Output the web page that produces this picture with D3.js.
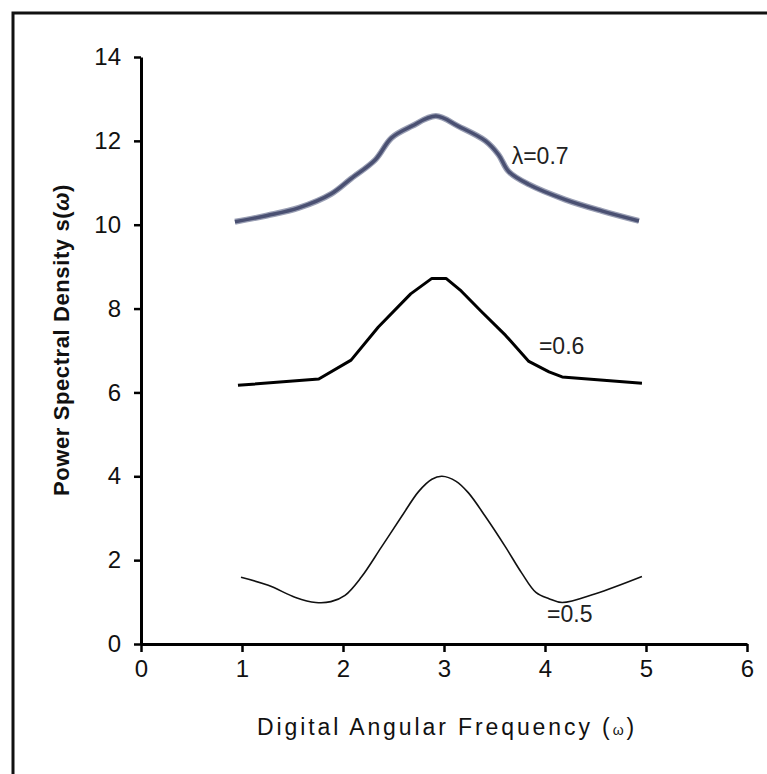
<!DOCTYPE html>
<html>
<head>
<meta charset="utf-8">
<script src="https://cdn.jsdelivr.net/npm/d3@7"></script>
<style>
  body { margin: 0; background: #fff; }
  svg { display: block; font-family: "Liberation Sans", Arial, sans-serif; }
</style>
</head>
<body>
<div id="container"></div>
<script>
'use strict'
// data
const xTicks = [0, 1, 2, 3, 4, 5, 6];
const yTicks = [0, 2, 4, 6, 8, 10, 12, 14];

const omega07 = [0.93, 1.25, 1.56, 1.88, 2.08, 2.32, 2.48, 2.68, 2.92, 3.14, 3.41, 3.54, 3.64, 3.84, 4.2, 4.56, 4.93];
const psd07   = [10.07, 10.22, 10.4, 10.73, 11.1, 11.55, 12.07, 12.35, 12.59, 12.35, 12.0, 11.67, 11.27, 10.96, 10.6, 10.33, 10.09];

const omega06 = [0.96, 1.76, 2.08, 2.35, 2.67, 2.88, 3.02, 3.17, 3.37, 3.61, 3.84, 4.04, 4.17, 4.96];
const psd06   = [6.17, 6.32, 6.77, 7.56, 8.35, 8.72, 8.72, 8.42, 7.93, 7.36, 6.74, 6.49, 6.37, 6.22];

const omega05 = [0.99, 1.26, 1.53, 1.73, 1.88, 2.02, 2.18, 2.38, 2.58, 2.75, 2.88, 2.98, 3.12, 3.24, 3.41, 3.61, 3.77, 3.91, 4.04, 4.17, 4.5, 4.96];
const psd05   = [1.59, 1.40, 1.11, 0.99, 1.01, 1.16, 1.59, 2.31, 3.04, 3.64, 3.93, 4.0, 3.88, 3.61, 3.04, 2.31, 1.69, 1.23, 1.08, 0.99, 1.20, 1.61];

const labels = [
  { text: "\u03bb=0.7", x: 3.67, y: 11.45 },
  { text: "=0.6", x: 3.94, y: 6.92 },
  { text: "=0.5", x: 4.02, y: 0.52 }
];

const w = 767, h = 774;
const svg = d3.select("#container").append("svg").attr("width", w).attr("height", h);

// scanned page frame (top and left edges only)
svg.append("path").attr("d", "M13,790 V13 H790")
   .attr("fill", "none").attr("stroke", "#111").attr("stroke-width", 3);

//Scales
const xScale = d3.scaleLinear().domain([0, 6]).range([141, 747]);
const yScale = d3.scaleLinear().domain([0, 14]).range([644, 57]);

//Axes
const yAxis = d3.axisLeft(yScale).tickValues(yTicks).tickFormat(d3.format("d"))
                .tickSize(7).tickSizeOuter(0).tickPadding(13);
const gy = svg.append("g").attr("transform", "translate(" + xScale(0) + ",0)").call(yAxis);
const xAxis = d3.axisBottom(xScale).tickValues(xTicks).tickFormat(d3.format("d"))
                .tickSize(8).tickSizeOuter(0).tickPadding(8);
const gx = svg.append("g").attr("transform", "translate(0," + yScale(0) + ")").call(xAxis);

[gy, gx].forEach(function(g) {
  g.attr("font-size", null).attr("font-family", null);
  g.select(".domain").attr("stroke", "#000").attr("stroke-width", 3);
  g.selectAll(".tick line").attr("stroke", "#000").attr("stroke-width", 2.5);
  g.selectAll(".tick text").attr("fill", "#111").style("font-size", "24px");
});

//Lines
const line = d3.line().x(d => xScale(d[0])).y(d => yScale(d[1]));
const smooth = d3.line().x(d => xScale(d[0])).y(d => yScale(d[1])).curve(d3.curveCatmullRom);

svg.append("path").datum(d3.zip(omega07, psd07)).attr("d", smooth)
   .attr("fill", "none").attr("stroke", "#9a9fb4").attr("stroke-width", 6).attr("stroke-linejoin", "round");
svg.append("path").datum(d3.zip(omega07, psd07)).attr("d", smooth)
   .attr("fill", "none").attr("stroke", "#4a5072").attr("stroke-width", 3.5).attr("stroke-linejoin", "round");

svg.append("path").datum(d3.zip(omega06, psd06)).attr("d", line)
   .attr("fill", "none").attr("stroke", "#000").attr("stroke-width", 3).attr("stroke-linejoin", "round");

svg.append("path").datum(d3.zip(omega05, psd05)).attr("d", smooth)
   .attr("fill", "none").attr("stroke", "#111").attr("stroke-width", 1.6);

//Curve labels
svg.selectAll("text.lbl").data(labels).enter().append("text").attr("class", "lbl")
   .attr("x", d => xScale(d.x)).attr("y", d => yScale(d.y))
   .style("font-size", "23px").attr("fill", "#222").text(d => d.text);

//Axis titles
svg.append("text")
   .attr("transform", "translate(69,340) rotate(-90)")
   .attr("text-anchor", "middle").style("font-size", "22px").style("font-weight", "bold")
   .style("letter-spacing", "0.6px").attr("fill", "#111")
   .html('Power Spectral Density s(<tspan font-style="italic">\u03c9</tspan>)');

svg.append("text")
   .attr("x", 447).attr("y", 735)
   .attr("text-anchor", "middle").style("font-size", "23px").style("letter-spacing", "2.9px")
   .attr("fill", "#111")
   .html('Digital Angular Frequency (<tspan style="font-size:14px">\u03c9</tspan>)');
</script>
</body>
</html>
